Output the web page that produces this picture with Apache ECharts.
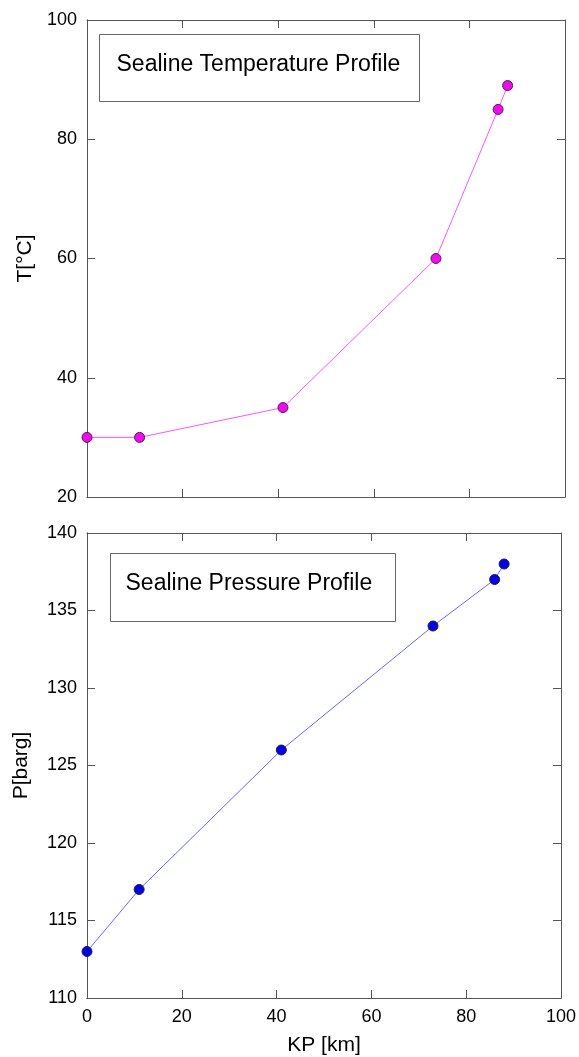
<!DOCTYPE html>
<html>
<head>
<meta charset="utf-8">
<script src="https://cdn.jsdelivr.net/npm/echarts@6/dist/echarts.min.js"></script>
<style>
  html, body { margin: 0; padding: 0; background: #fff; }
  #main { width: 579px; height: 1057px; }
</style>
</head>
<body>
<div id="main"></div>
<script>
// KP positions along the sealine [km]
var kp = [0, 11, 41, 73, 86, 88];
// temperature [°C] at each KP
var temperature = [30, 30, 35, 60, 85, 89];
// pressure [barg] at each KP
var pressure = [113, 117, 126, 134, 137, 138];

var tempTitle = 'Sealine Temperature Profile';
var presTitle = 'Sealine Pressure Profile';

function pairs(xs, ys) {
    return xs.map(function (x, i) { return [x, ys[i]]; });
}

var font = 'Arial, "Liberation Sans", sans-serif';
var frameColor = '#555';

// an axis that only draws inside ticks (used for the frame sides)
function frameAxis(grid, pos, min, max, interval) {
    return {
        type: 'value', gridIndex: grid, position: pos,
        min: min, max: max, interval: interval,
        axisLine: { show: true, onZero: false, lineStyle: { color: frameColor, width: 1 } },
        axisTick: { show: true, inside: true, length: 8, lineStyle: { color: frameColor } },
        axisLabel: { show: false },
        splitLine: { show: false }
    };
}

// labelled axis, its ticks are drawn by a frame axis on the same side
function labelAxis(grid, pos, min, max, interval, name, nameGap, nameSize) {
    return {
        type: 'value', gridIndex: grid, position: pos,
        min: min, max: max, interval: interval,
        name: name, nameLocation: 'middle', nameGap: nameGap,
        nameTextStyle: { fontSize: nameSize, color: '#000', fontFamily: font },
        axisLine: { show: true, onZero: false, lineStyle: { color: frameColor } },
        axisTick: { show: false },
        axisLabel: { fontSize: 18, color: '#000', margin: 10, fontFamily: font },
        splitLine: { show: false }
    };
}

var myChart = echarts.init(document.getElementById('main'));

var option = {
    animation: false,
    backgroundColor: '#fff',
    textStyle: { fontFamily: font },
    grid: [
        { left: 87, top: 20, width: 478, height: 477 },
        { left: 87, top: 533, width: 479, height: 475 }
    ],
    xAxis: [
        frameAxis(0, 'bottom', 0, 100, 20),
        frameAxis(0, 'top', 0, 100, 20),
        labelAxis(1, 'bottom', 0, 100, 20, 'KP [km]', 37, 21),
        frameAxis(1, 'top', 0, 100, 20),
        frameAxis(1, 'bottom', 0, 100, 20)
    ],
    yAxis: [
        labelAxis(0, 'left', 20, 100, 20, 'T[°C]', 50, 21),
        frameAxis(0, 'right', 20, 100, 20),
        labelAxis(1, 'left', 110, 140, 5, 'P[barg]', 55, 21),
        frameAxis(1, 'right', 110, 140, 5),
        frameAxis(0, 'left', 20, 100, 20),
        frameAxis(1, 'left', 110, 140, 5)
    ],
    graphic: [
        {
            type: 'group', left: 99, top: 34,
            children: [
                { type: 'rect', shape: { x: 0, y: 0, width: 320, height: 67 },
                  style: { fill: '#fff', stroke: '#666', lineWidth: 1 } },
                { type: 'text', x: 17, y: 30,
                  style: { text: tempTitle, font: '23px ' + font, fill: '#000', verticalAlign: 'middle' } }
            ]
        },
        {
            type: 'group', left: 110, top: 553,
            children: [
                { type: 'rect', shape: { x: 0, y: 0, width: 285, height: 68 },
                  style: { fill: '#fff', stroke: '#666', lineWidth: 1 } },
                { type: 'text', x: 15, y: 30,
                  style: { text: presTitle, font: '23px ' + font, fill: '#000', verticalAlign: 'middle' } }
            ]
        }
    ],
    series: [
        {
            name: 'Temperature', type: 'line',
            xAxisIndex: 0, yAxisIndex: 0,
            data: pairs(kp, temperature),
            symbol: 'circle', symbolSize: 10,
            lineStyle: { color: '#ff55ff', width: 1 },
            itemStyle: { color: '#ff00ff', borderColor: '#333', borderWidth: 1 }
        },
        {
            name: 'Pressure', type: 'line',
            xAxisIndex: 2, yAxisIndex: 2,
            data: pairs(kp, pressure),
            symbol: 'circle', symbolSize: 10,
            lineStyle: { color: '#6666ff', width: 1 },
            itemStyle: { color: '#0000ff', borderColor: '#222', borderWidth: 1 }
        }
    ]
};

myChart.setOption(option);
</script>
</body>
</html>
